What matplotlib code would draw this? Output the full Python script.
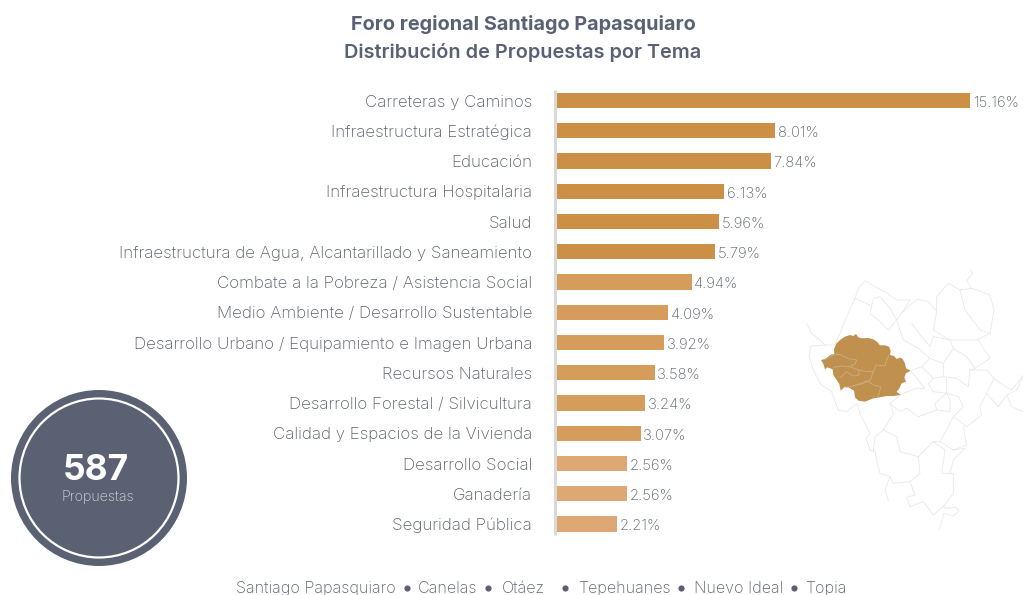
import matplotlib
matplotlib.use('Agg')
import matplotlib.pyplot as plt
from matplotlib.patches import Circle, Polygon

plt.rcParams['font.family'] = ['Inter', 'DejaVu Sans']

temas = ['Carreteras y Caminos', 'Infraestructura Estratégica', 'Educación',
         'Infraestructura Hospitalaria', 'Salud',
         'Infraestructura de Agua, Alcantarillado y Saneamiento',
         'Combate a la Pobreza / Asistencia Social',
         'Medio Ambiente / Desarrollo Sustentable',
         'Desarrollo Urbano / Equipamiento e Imagen Urbana',
         'Recursos Naturales', 'Desarrollo Forestal / Silvicultura',
         'Calidad y Espacios de la Vivienda', 'Desarrollo Social',
         'Ganadería', 'Seguridad Pública']
porcentajes = [15.16, 8.01, 7.84, 6.13, 5.96, 5.79, 4.94, 4.09, 3.92, 3.58,
               3.24, 3.07, 2.56, 2.56, 2.21]
colores = ['#CB8F45'] * 6 + ['#D59C5C'] * 6 + ['#DDA873'] * 3

municipios = ['Santiago Papasquiaro', 'Canelas', 'Otáez', 'Tepehuanes',
              'Nuevo Ideal', 'Topia']
municipios_x = [236, 418, 502, 578, 694, 805]
puntos_x = [407, 488, 565, 681, 794]

GRIS = '#5F636E'
AZUL = '#5A6173'
W, H = 1023, 595

# contorno de la region resaltada (px del zoom 3x)
region = [(93, 300), (108, 296), (120, 285), (133, 282), (132, 268), (138, 252),
          (150, 240), (165, 230), (180, 225), (190, 228), (198, 222), (205, 232),
          (215, 235), (235, 234), (250, 238), (262, 246), (270, 256), (285, 256),
          (297, 260), (302, 272), (300, 285), (312, 288), (320, 297), (330, 293),
          (338, 297), (345, 310), (348, 325), (362, 332), (348, 340), (343, 352),
          (348, 365), (335, 370), (328, 385), (320, 395), (332, 405), (310, 408),
          (290, 408), (270, 412), (250, 415), (225, 425), (205, 422), (195, 412),
          (192, 392), (175, 382), (165, 380), (152, 392), (148, 372), (140, 360),
          (130, 345), (128, 328), (112, 322), (105, 328), (100, 312)]
limites_region = [
    [(105, 298), (130, 285), (150, 283), (175, 296), (200, 300), (195, 312),
     (180, 320), (155, 318), (130, 322)],
    [(180, 320), (205, 330), (208, 345), (190, 348), (170, 335), (160, 345), (150, 352)],
    [(205, 330), (230, 335), (250, 335), (258, 315), (285, 318), (290, 300), (297, 285)],
    [(250, 335), (240, 362), (215, 372), (190, 378), (165, 382)],
    [(190, 378), (232, 362), (250, 375), (272, 380), (268, 398), (262, 412)],
]
limites_estado = [
    [(50, 190), (65, 220), (90, 240), (105, 255), (135, 255)],
    [(105, 255), (62, 258), (58, 290), (70, 330), (85, 360), (95, 375), (125, 395),
     (135, 425), (145, 450), (170, 455), (200, 430), (212, 465), (225, 490), (240, 520),
     (228, 535), (240, 570), (255, 575), (262, 610), (270, 640), (300, 650), (285, 690),
     (295, 722)],
    [(135, 255), (150, 220), (170, 170), (195, 115), (205, 85), (225, 62), (255, 80),
     (285, 95), (320, 120), (360, 120), (335, 160), (320, 180), (295, 210), (270, 185),
     (240, 160), (250, 115), (270, 110), (300, 145), (320, 180)],
    [(195, 115), (240, 135)],
    [(335, 160), (360, 135), (385, 118), (415, 125), (440, 155), (430, 210), (455, 225),
     (480, 240), (520, 240), (560, 240), (600, 220), (612, 150), (600, 105), (545, 85),
     (510, 90), (475, 70), (440, 110), (440, 155)],
    [(545, 85), (530, 62), (548, 40), (540, 28)],
    [(510, 90), (525, 150), (570, 210), (600, 220)],
    [(320, 180), (340, 240), (385, 265), (420, 295), (395, 320), (362, 332)],
    [(365, 190), (395, 230), (420, 260), (430, 230), (480, 240), (490, 265), (530, 290),
     (555, 325), (600, 295), (565, 240)],
    [(420, 295), (460, 310), (490, 265)],
    [(460, 310), (460, 350), (430, 355), (395, 320)],
    [(460, 350), (500, 355), (535, 380), (540, 330), (555, 325)],
    [(540, 330), (590, 330), (612, 355), (640, 375), (665, 390), (700, 345), (680, 390),
     (650, 405), (665, 440), (700, 455)],
    [(612, 355), (590, 400), (625, 440), (650, 405)],
    [(590, 400), (570, 440), (575, 465), (530, 500), (490, 470), (520, 440),
     (505, 410), (470, 400), (430, 395), (415, 370), (430, 355)],
    [(470, 355), (470, 400), (480, 420), (480, 455), (440, 450), (435, 430), (470, 400)],
    [(362, 332), (405, 385), (380, 385), (340, 400), (332, 405), (300, 430),
     (330, 455), (350, 445), (385, 470), (440, 450)],
    [(300, 430), (310, 460), (280, 510), (255, 530), (250, 575)],
    [(280, 510), (320, 530), (330, 575), (385, 590), (430, 545), (450, 545),
     (475, 500), (490, 470)],
    [(450, 545), (490, 570), (530, 555), (520, 500)],
    [(385, 590), (390, 640), (360, 665), (310, 670), (300, 650)],
    [(430, 545), (465, 570), (455, 640), (490, 640), (490, 700), (460, 740),
     (430, 765), (400, 725), (360, 740), (350, 712), (375, 705), (360, 665)],
    [(490, 570), (525, 565), (490, 600), (480, 640)],
    [(460, 740), (470, 745), (495, 742), (508, 752), (490, 768), (462, 760), (448, 808)],
]


def map_px(p):
    return (790 + p[0] / 3, 260 + p[1] / 3)


fig = plt.figure(figsize=(W / 100, H / 100), dpi=100)

# capa de fondo en pixeles para mapa, circulo y textos sueltos
bg = fig.add_axes([0, 0, 1, 1])
bg.set_xlim(0, W)
bg.set_ylim(H, 0)
bg.axis('off')

for linea in limites_estado:
    bg.plot(*zip(*[map_px(p) for p in linea]), color='#E8E8E8', lw=0.6)
bg.add_patch(Polygon([map_px(p) for p in region], closed=True, fc='#C0904F', ec='none'))
for linea in limites_region:
    bg.plot(*zip(*[map_px(p) for p in linea]), color='#CCAE84', lw=0.6)

bg.add_patch(Circle((99, 478), 88, fc=AZUL, ec='none'))
bg.add_patch(Circle((99, 478), 79.5, fc='none', ec='white', lw=1.6))
bg.text(96, 471, '587', color='white', fontsize=25.5, fontweight='bold', ha='center', va='center')
bg.text(98, 497, 'Propuestas', color='#D5D7DC', fontsize=10.3, fontweight='light', ha='center', va='center')

bg.text(523, 25, 'Foro regional Santiago Papasquiaro', color=AZUL, fontsize=14.3,
        fontweight='bold', ha='center', va='center')
bg.text(523, 52, 'Distribución de Propuestas por Tema', color=AZUL, fontsize=14.3,
        fontweight='semibold', ha='center', va='center')

# grafica de barras: 0 en x=557, 27.24 px por punto porcentual
x0, px_por_unidad = 557, 27.24
top, paso = 85.4, 30.25
ax = fig.add_axes([x0 / W, 1 - (top + paso * 15) / H, (W - x0) / W, paso * 15 / H])
ax.patch.set_alpha(0)
pos = list(range(len(temas)))
ax.barh(pos, porcentajes, height=0.5, color=colores)
ax.set_xlim(0, (W - x0) / px_por_unidad)
ax.set_ylim(14.5, -0.5)
ax.set_yticks(pos)
ax.set_yticklabels(temas, fontsize=12.2, color=GRIS, fontweight='light', va='center_baseline')
ax.tick_params(axis='y', length=0, pad=25 / 1.39)
ax.set_xticks([])
for s in ax.spines.values():
    s.set_visible(False)
for i, v in enumerate(porcentajes):
    ax.text(v + 0.1, i + 0.03, f'{v:.2f}%', fontsize=10.7, color=GRIS, fontweight='light',
            ha='left', va='center_baseline', clip_on=False)
bg.plot([555, 555], [90, 535], color='#D9D9D9', lw=2.2, solid_capstyle='butt')

for nombre, xm in zip(municipios, municipios_x):
    bg.text(xm, 593, nombre, color=GRIS, fontsize=11.6, fontweight='light', ha='left', va='baseline')
bg.scatter(puntos_x, [588] * len(puntos_x), s=20, color=AZUL, linewidths=0)

fig.savefig('out.png', dpi=100, facecolor='white')
